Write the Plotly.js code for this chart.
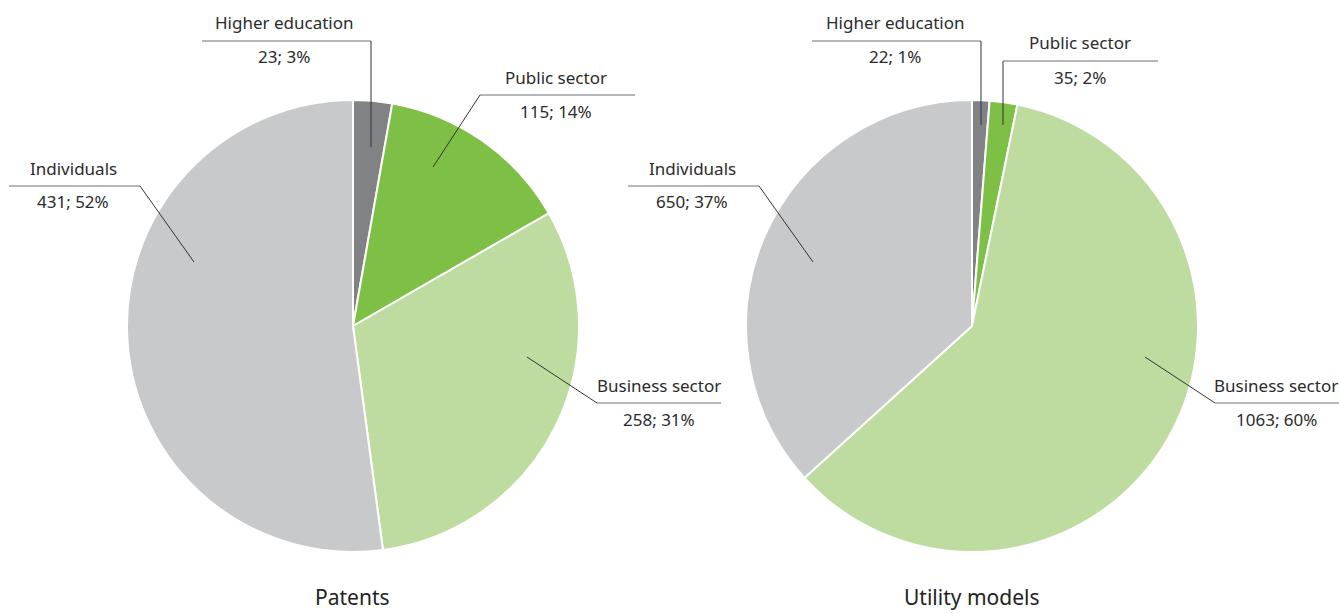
<!DOCTYPE html>
<html>
<head>
<meta charset="utf-8">
<script src="https://cdn.plot.ly/plotly-3.0.1.min.js"></script>
<style>
  body { margin: 0; background: #fff; }
  #chart { width: 1339px; height: 613px; }
</style>
</head>
<body>
<div id="chart"></div>
<script>
// sectors, clockwise from 12 o'clock
let sectors = ['Higher education', 'Public sector', 'Business sector', 'Individuals'];
let patents = [23, 115, 258, 431];
let utility_models = [22, 35, 1063, 650];
let chart_titles = ['Patents', 'Utility models'];
let colours = ['#818285', '#7dc045', '#bedc9f', '#c8c9cb'];

const W = 1339, H = 613;
const px = x => x / W;
const py = y => 1 - y / H;

// leader line layout (pixels): label centre, horizontal rule, elbow, tip inside slice
let leaders = [
  // patents
  [
    {cx: 284, y: 41, x0: 202, x1: 371, ex: 371, tx: 371, ty: 147},
    {cx: 556, y: 95, x0: 480, x1: 635, ex: 480, tx: 433, ty: 167},
    {cx: 659, y: 403, x0: 597, x1: 721, ex: 597, tx: 527, ty: 357},
    {cx: 73, y: 186, x0: 9, x1: 140, ex: 140, tx: 194, ty: 262}
  ],
  // utility models
  [
    {cx: 895, y: 41, x0: 812, x1: 981, ex: 981, tx: 981, ty: 125},
    {cx: 1080, y: 61, x0: 1003, x1: 1158, ex: 1003, tx: 1003, ty: 125},
    {cx: 1276, y: 403, x0: 1215, x1: 1339, ex: 1215, tx: 1145, ty: 357},
    {cx: 692, y: 186, x0: 628, x1: 759, ex: 759, tx: 813, ty: 262}
  ]
];

let domains = [
  {x: [px(127), px(579)], y: [py(552), py(100)]},
  {x: [px(746), px(1198)], y: [py(552), py(100)]}
];
let centres = [353, 972];

let series = [patents, utility_models];
let traces = [];
let annotations = [];
let shapes = [];
const font = {family: 'Noto Sans, Open Sans, sans-serif', size: 17, color: '#2b2b2b'};

series.forEach((vals, i) => {
  traces.push({
    type: 'pie',
    values: vals,
    labels: sectors,
    sort: false,
    direction: 'clockwise',
    rotation: 0,
    textinfo: 'none',
    hoverinfo: 'none',
    marker: {colors: colours, line: {color: '#ffffff', width: 2}},
    domain: domains[i]
  });

  let total = vals.reduce((a, b) => a + b, 0);
  vals.forEach((v, j) => {
    let L = leaders[i][j];
    annotations.push({
      xref: 'paper', yref: 'paper', x: px(L.cx), y: py(L.y - 18),
      xanchor: 'center', yanchor: 'middle', showarrow: false,
      text: sectors[j], font: font
    });
    annotations.push({
      xref: 'paper', yref: 'paper', x: px(L.cx), y: py(L.y + 16),
      xanchor: 'center', yanchor: 'middle', showarrow: false,
      text: v + '; ' + Math.round(v / total * 100) + '%', font: font
    });
    shapes.push({
      type: 'line', xref: 'paper', yref: 'paper',
      x0: px(L.x0), x1: px(L.x1), y0: py(L.y), y1: py(L.y),
      line: {color: '#6d6e71', width: 1}
    });
    shapes.push({
      type: 'line', xref: 'paper', yref: 'paper',
      x0: px(L.ex), x1: px(L.tx), y0: py(L.y), y1: py(L.ty),
      line: {color: '#333333', width: 1}
    });
  });

  annotations.push({
    xref: 'paper', yref: 'paper', x: px(centres[i]), y: 0,
    xanchor: 'center', yanchor: 'bottom', showarrow: false,
    text: chart_titles[i],
    font: {family: font.family, size: 21, color: '#222222'}
  });
});

Plotly.newPlot('chart', traces, {
  width: W, height: H,
  margin: {l: 0, r: 0, t: 0, b: 0},
  showlegend: false,
  paper_bgcolor: '#ffffff',
  annotations: annotations,
  shapes: shapes
}, {staticPlot: true});
</script>
</body>
</html>
